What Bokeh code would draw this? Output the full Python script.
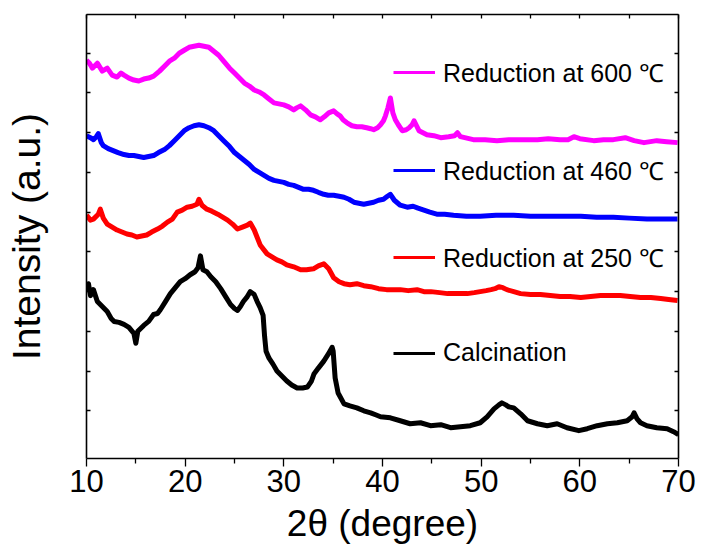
from bokeh.plotting import figure
from bokeh.models import (Range1d, LinearAxis, FixedTicker, Legend, LegendItem, Grid,
                          CustomLabelingPolicy)
from bokeh.embed import file_html
from bokeh.resources import INLINE

FONT = "Liberation Sans"

# ---------------- data (2theta in degree, intensity in a.u., offset per pattern) -------------
black_x = [10.0, 10.2, 10.4, 10.7, 11.1, 11.5, 12.1, 12.5, 12.8, 13.3,
           13.8, 14.3, 14.8, 15.0, 15.2, 15.8, 16.3, 16.8, 17.2, 17.5,
           18.0, 18.5, 19.0, 19.5, 20.0, 20.5, 21.0, 21.3, 21.55, 21.8,
           22.2, 22.6, 23.1, 23.6, 24.1, 24.6, 25.0, 25.3, 25.6, 25.9,
           26.3, 26.6, 27.0, 27.3, 27.6, 27.9, 28.05, 28.2, 28.5, 28.9,
           29.3, 29.8, 30.3, 30.8, 31.35, 31.9, 32.4, 32.8, 33.05, 33.5,
           34.05, 34.5, 34.9, 35.0, 35.2, 35.5, 36.1, 36.7, 37.4, 38.1,
           38.8, 39.3, 39.8, 40.8, 41.8, 42.8, 43.85, 44.86, 45.9, 46.9,
           47.9, 48.9, 49.9, 50.6, 51.3, 51.8, 52.1, 52.5, 52.8, 53.3,
           54.0, 54.7, 55.7, 56.7, 57.7, 58.7, 59.9, 60.75, 61.76, 62.8,
           63.8, 64.8, 65.3, 65.5, 65.8, 66.15, 66.8, 67.8, 68.85, 69.5,
           70.0]
black_y = [120, 128, 116, 122, 110, 106, 100, 93, 90, 89,
           87, 84, 78, 68, 80, 86, 90, 97, 98, 102,
           110, 118, 124, 130, 133, 137, 140, 144, 156, 142,
           140, 135, 130, 123, 115, 107, 103, 101, 105, 110,
           115, 120, 117, 110, 104, 96, 75, 60, 53, 47,
           40, 35, 30, 26, 23, 23, 24, 30, 37, 43,
           50, 57, 64, 60, 33, 18, 7, 5, 3, 0,
           -2, -4, -6, -7, -10, -13, -12, -15, -14, -17,
           -16, -15, -12, -6, 2, 6, 8, 6, 4, 3,
           -3, -10, -13, -15, -13, -17, -20, -18, -15, -13,
           -12, -10, -6, -2, -8, -12, -15, -17, -18, -21,
           -24]

red_x = [10.0, 10.4, 10.7, 11.2, 11.4, 11.7, 12.1, 12.6, 13.1, 13.6,
         14.1, 14.6, 15.1, 15.6, 16.1, 16.6, 17.2, 17.7, 18.2, 18.7,
         19.2, 19.7, 20.2, 20.7, 21.2, 21.4, 21.7, 22.2, 22.7, 23.3,
         23.8, 24.3, 24.8, 25.3, 25.8, 26.3, 26.6, 27.0, 27.6, 28.3,
         28.8, 29.3, 29.8, 30.3, 31.0, 31.7, 32.3, 33.0, 33.5, 34.05,
         34.55, 35.05, 35.6, 36.1, 36.7, 37.4, 38.1, 38.8, 39.6, 40.4,
         41.1, 41.8, 42.6, 43.5, 44.2, 44.9, 45.8, 46.6, 47.6, 48.6,
         49.3, 49.9, 50.5, 51.0, 51.4, 51.8, 52.2, 52.6, 53.3, 54.0,
         55.0, 56.0, 57.0, 58.0, 59.0, 60.1, 61.1, 62.1, 63.1, 64.1,
         65.1, 66.15, 67.2, 68.2, 69.0, 69.9]
red_y = [197, 192, 193, 198, 203, 194, 188, 185, 182, 180,
         178, 177, 175, 176, 177, 180, 183, 186, 190, 193,
         200, 202, 205, 206, 208, 213, 207, 203, 201, 198,
         195, 192, 188, 183, 185, 187, 189, 182, 167, 158,
         155, 152, 150, 147, 145, 142, 142, 143, 146, 148,
         143, 134, 130, 128, 127, 128, 126, 125, 123, 122,
         122, 122, 121, 122, 120, 120, 119, 118, 118, 118,
         119, 120, 121, 122, 123, 125, 124, 122, 120, 118,
         117, 117, 116, 115, 115, 114, 115, 116, 116, 116,
         115, 114, 114, 113, 112, 111]

blue_x = [10.0, 10.4, 10.7, 11.0, 11.2, 11.5, 11.7, 12.2, 12.7, 13.2,
          13.8, 14.3, 14.8, 15.3, 15.8, 16.3, 16.8, 17.3, 17.9, 18.4,
          18.9, 19.4, 19.9, 20.4, 20.9, 21.4, 21.9, 22.4, 22.9, 23.4,
          23.9, 24.5, 25.0, 25.5, 26.0, 26.5, 27.0, 27.5, 28.0, 28.5,
          29.0, 29.5, 30.0, 30.5, 31.0, 31.5, 32.0, 32.5, 33.0, 33.5,
          34.05, 34.5, 35.05, 35.6, 36.1, 36.6, 37.1, 37.6, 38.1, 38.6,
          39.1, 39.6, 40.1, 40.5, 40.8, 41.2, 41.8, 42.5, 43.1, 43.6,
          44.2, 44.8, 45.5, 46.3, 47.2, 48.5, 49.9, 51.5, 53.3, 55.0,
          56.7, 58.4, 60.1, 61.7, 63.4, 65.0, 66.8, 68.4, 69.9]
blue_y = [277, 275, 273, 276, 279, 270, 267, 264, 262, 260,
          258, 257, 257, 256, 255, 256, 257, 260, 263, 267,
          272, 277, 282, 285, 287, 288, 287, 285, 282, 277,
          272, 266, 260, 256, 252, 248, 243, 240, 237, 234,
          232, 231, 230, 228, 227, 225, 223, 223, 222, 220,
          218, 217, 217, 216, 215, 213, 210, 209, 208, 209,
          210, 212, 213, 216, 218, 212, 207, 205, 206, 204,
          202, 200, 198, 198, 197, 196, 196, 197, 197, 196,
          196, 196, 196, 195, 195, 194, 193, 193, 193]

mag_x = [10.0, 10.3, 10.6, 11.1, 11.6, 12.1, 12.6, 13.1, 13.5, 13.8,
         14.3, 14.8, 15.3, 15.8, 16.3, 16.8, 17.4, 17.9, 18.4, 18.9,
         19.4, 19.9, 20.4, 20.9, 21.4, 21.9, 22.4, 22.9, 23.4, 23.9,
         24.5, 25.0, 25.5, 26.0, 26.5, 27.0, 27.5, 28.0, 28.5, 29.0,
         29.5, 30.0, 30.5, 31.0, 31.3, 31.7, 32.2, 32.7, 33.2, 33.7,
         34.1, 34.55, 35.05, 35.4, 35.7, 36.0, 36.4, 36.9, 37.4, 37.9,
         38.4, 38.8, 39.1, 39.5, 39.8, 40.1, 40.3, 40.55, 40.8, 41.05,
         41.3, 41.6, 42.0, 42.4, 42.7, 43.0, 43.2, 43.45, 43.7, 44.1,
         44.5, 45.2, 45.9, 46.7, 47.3, 47.6, 47.9, 49.2, 50.4, 51.6,
         52.8, 54.0, 55.7, 56.8, 58.0, 58.8, 59.4, 60.0, 61.4, 62.4,
         63.4, 64.6, 65.5, 66.5, 67.8, 68.8, 69.9]
mag_y = [353, 350, 345, 350, 342, 345, 338, 336, 340, 338,
         335, 333, 332, 334, 335, 337, 342, 347, 352, 355,
         360, 363, 366, 367, 368, 367, 366, 362, 358, 352,
         345, 340, 335, 330, 327, 323, 321, 318, 314, 310,
         309, 308, 306, 303, 305, 307, 303, 298, 296, 293,
         296, 300, 302, 299, 297, 293, 290, 287, 286, 286,
         285, 284, 283, 285, 288, 292, 297, 305, 315, 300,
         293, 288, 282, 283, 285, 288, 292, 287, 282, 280,
         278, 277, 275, 276, 277, 280, 276, 273, 273, 272,
         273, 273, 273, 274, 273, 273, 276, 274, 272, 273,
         273, 275, 272, 270, 272, 271, 270]

labels = ["Reduction at 600 \u2103", "Reduction at 460 \u2103",
          "Reduction at 250 \u2103", "Calcination"]
colors = ["#FF00FF", "#0000FF", "#FF0000", "#000000"]
x_ticks = [10, 20, 30, 40, 50, 60, 70]
x_minor = [15, 25, 35, 45, 55, 65]
top_ticks = [10, 15, 20, 25, 30, 35, 40, 45, 50, 55, 60, 65, 70]
y_ticks = [0, 40, 80, 120, 160, 200, 240, 280, 320, 360]

# ---------------- figure ----------------
p = figure(width=702, height=552, output_backend="svg", toolbar_location=None,
           x_range=Range1d(10, 70), y_range=Range1d(-48, 399),
           min_border_left=86, min_border_right=24, min_border_top=14,
           min_border_bottom=94, x_axis_location=None, y_axis_location=None)
p.outline_line_color = None
p.background_fill_color = "white"
p.border_fill_color = "white"
for g in list(p.center):
    if isinstance(g, Grid):
        g.visible = False
        g.grid_line_color = None

series = [(mag_x, mag_y), (blue_x, blue_y), (red_x, red_y), (black_x, black_y)]
for (xs, ys), c in zip(series, colors):
    p.line(xs, ys, line_color=c, line_width=5, line_join="round")

no_labels = CustomLabelingPolicy(code="return new indices.constructor(indices.size)")

def style(ax, labelled=True):
    ax.axis_line_width = 1.6
    ax.axis_line_color = "black"
    ax.major_tick_line_width = 1.3
    ax.minor_tick_line_width = 1.3
    ax.major_tick_line_color = "black"
    ax.minor_tick_line_color = "black"
    ax.major_label_text_font = FONT
    ax.major_label_text_color = "black"
    ax.axis_label_text_font = FONT
    ax.axis_label_text_color = "black"
    ax.axis_label_text_font_style = "normal"
    if not labelled:
        ax.major_label_policy = no_labels
        ax.major_label_text_font_size = "0px"
        ax.major_label_standoff = 0
        ax.minor_tick_line_color = None
        ax.major_tick_in = 4
        ax.major_tick_out = 0

xb = LinearAxis(ticker=FixedTicker(ticks=x_ticks, minor_ticks=x_minor),
                axis_label="2\u03b8 (degree)")
style(xb)
xb.major_tick_in = 0
xb.major_tick_out = 8
xb.minor_tick_in = 0
xb.minor_tick_out = 5
xb.major_label_text_font_size = "31px"
xb.major_label_standoff = 3
xb.axis_label_text_font_size = "37px"
xb.axis_label_standoff = 8
p.add_layout(xb, "below")

xt = LinearAxis(ticker=FixedTicker(ticks=top_ticks))
style(xt, labelled=False)
p.add_layout(xt, "above")

yl = LinearAxis(ticker=FixedTicker(ticks=y_ticks), axis_label="Intensity (a.u.)")
style(yl, labelled=False)
yl.axis_label_text_font_size = "39px"
yl.axis_label_standoff = 39
p.add_layout(yl, "left")

yr = LinearAxis(ticker=FixedTicker(ticks=y_ticks))
style(yr, labelled=False)
p.add_layout(yr, "right")

# legends (one per entry, placed as in the original)
nan = float("nan")
leg_y = [369, 271, 184, 91]
for lab, c, ly in zip(labels, colors, leg_y):
    r = p.line(x=[nan], y=[nan], line_color=c, line_width=3)
    leg = Legend(items=[LegendItem(label=lab, renderers=[r])], location=(307, ly),
                 border_line_color=None, background_fill_alpha=0, padding=0, margin=0,
                 spacing=0, glyph_width=42, glyph_height=28, label_height=28,
                 label_standoff=8, label_text_font=FONT, label_text_font_size="25px",
                 label_text_color="black")
    p.add_layout(leg)

open("out.html", "w").write(file_html(p, INLINE))
